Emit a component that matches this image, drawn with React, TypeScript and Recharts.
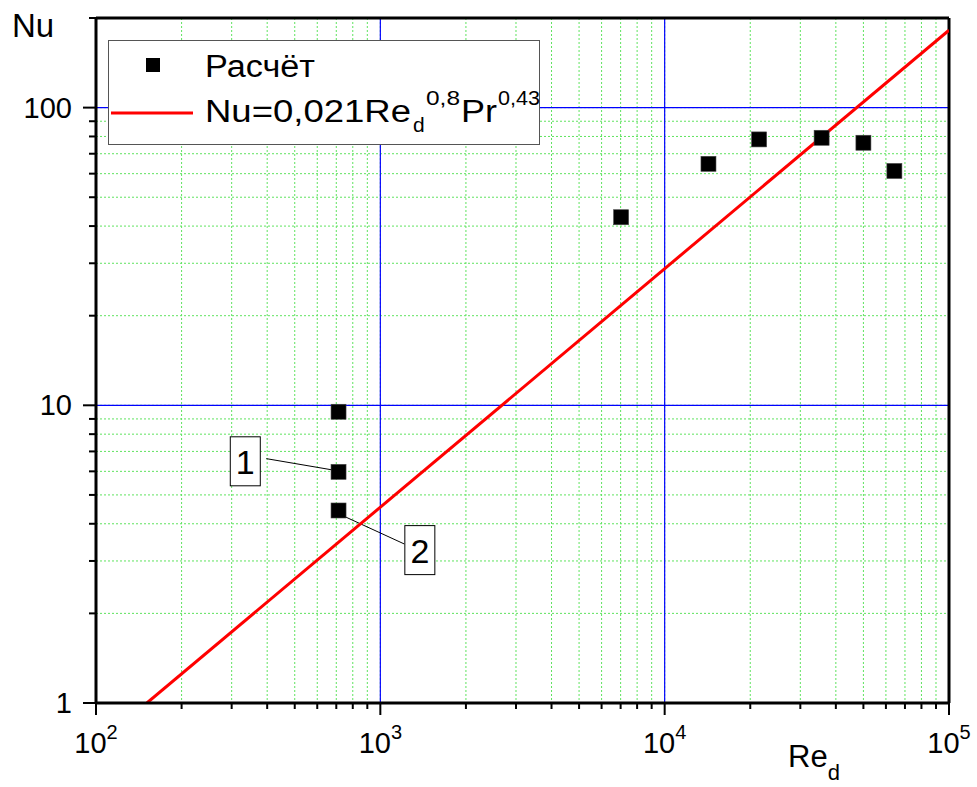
import { ComposedChart, Scatter, Line, XAxis, YAxis, CartesianGrid, ReferenceLine, ReferenceDot, Legend, Label } from "recharts"

const FONT = '"Liberation Sans", Arial, sans-serif'

// calculated points (Расчёт)
const calcRe = [710, 710, 710, 7000, 14200, 21400, 35500, 49800, 64000]
const calcNu = [9.55, 6.0, 4.45, 43, 65, 78.5, 79.5, 76.5, 61.5]

// correlation line Nu=0,021Re^0,8Pr^0,43, read at its two ends
const fitRe = [151, 100000]
const fitNu = [1, 182]

// axes
const xTicks = [100, 200, 300, 400, 500, 600, 700, 800, 900, 1000, 2000, 3000, 4000, 5000, 6000, 7000, 8000, 9000, 10000, 20000, 30000, 40000, 50000, 60000, 70000, 80000, 90000, 100000]
const xMajor = [100, 1000, 10000, 100000]
const xMajorExp = ["2", "3", "4", "5"]
const yTicks = [1, 2, 3, 4, 5, 6, 7, 8, 9, 10, 20, 30, 40, 50, 60, 70, 80, 90, 100, 200]
const yMajor = [1, 10, 100]
const yMajorLabels = ["1", "10", "100"]

// callouts "1" and "2"
const calloutText = ["1", "2"]
const calloutBoxRe = [335, 1377]
const calloutBoxNu = [6.46, 3.25]
const calloutFrom = [{ x: 397, y: 6.62 }, { x: 753, y: 4.22 }]
const calloutTo = [{ x: 711, y: 6.02 }, { x: 1215, y: 3.42 }]

const calcData = calcRe.map((re, i) => ({ re, nu: calcNu[i] }))
const fitData = fitRe.map((re, i) => ({ re, nu: fitNu[i] }))

const XTick = (props: any) => {
  const { x, y, payload } = props
  const idx = xMajor.indexOf(payload.value)
  const major = idx >= 0
  return (
    <g>
      <line x1={x} x2={x} y1={y} y2={y + (major ? 12 : 6)} stroke="#000" strokeWidth={2} />
      {major && (
        <text x={x} y={y + 50} textAnchor="middle" fontFamily={FONT} fontSize={29} fill="#000">
          <tspan>10</tspan>
          <tspan dy={-14} fontSize={20}>{xMajorExp[idx]}</tspan>
        </text>
      )}
    </g>
  )
}

const YTick = (props: any) => {
  const { x, y, payload } = props
  const idx = yMajor.indexOf(payload.value)
  const major = idx >= 0
  return (
    <g>
      <line x1={x - (major ? 13 : 7)} x2={x} y1={y} y2={y} stroke="#000" strokeWidth={2} />
      {major && (
        <text x={x - 24} y={y + 10} textAnchor="end" fontFamily={FONT} fontSize={29} fill="#000">
          {yMajorLabels[idx]}
        </text>
      )}
    </g>
  )
}

const Square = (props: any) => {
  const { cx, cy } = props
  if (cx == null || cy == null) return null
  return <rect x={cx - 7} y={cy - 7} width={15} height={15} fill="#000" stroke="#444" strokeWidth={0.6} />
}

const LegendBox = () => (
  <svg width={433} height={106} style={{ display: "block" }}>
    <rect x={0.5} y={0.5} width={431} height={104} fill="#fff" stroke="#555" strokeWidth={1} />
    <rect x={38} y={18} width={14} height={14} fill="#000" />
    <text x={97} y={37} fontFamily={FONT} fontSize={31} fill="#000" textLength={110} lengthAdjust="spacingAndGlyphs">Расчёт</text>
    <line x1={3} x2={85} y1={73} y2={73} stroke="#ff0000" strokeWidth={3} />
    <text x={97} y={82} fontFamily={FONT} fontSize={31} fill="#000" textLength={206} lengthAdjust="spacingAndGlyphs">Nu=0,021Re</text>
    <text x={305} y={92} fontFamily={FONT} fontSize={21} fill="#000">d</text>
    <text x={318} y={65} fontFamily={FONT} fontSize={21} fill="#000" textLength={34} lengthAdjust="spacingAndGlyphs">0,8</text>
    <text x={353} y={82} fontFamily={FONT} fontSize={31} fill="#000" textLength={36} lengthAdjust="spacingAndGlyphs">Pr</text>
    <text x={390} y={65} fontFamily={FONT} fontSize={21} fill="#000" textLength={42} lengthAdjust="spacingAndGlyphs">0,43</text>
  </svg>
)

const CalloutBox = (text: string) => (props: any) => {
  const { cx, cy } = props
  if (cx == null || cy == null) return null
  return (
    <g>
      <rect x={cx - 15} y={cy - 25} width={30} height={49} fill="#fff" stroke="#000" strokeWidth={1} />
      <text x={cx} y={cy + 12} textAnchor="middle" fontFamily={FONT} fontSize={34} fill="#000">{text}</text>
    </g>
  )
}

const YTitle = () => (
  <text x={12} y={37} fontFamily={FONT} fontSize={33} fill="#000">Nu</text>
)

const XTitle = () => (
  <text x={788} y={767} fontFamily={FONT} fill="#000">
    <tspan fontSize={31}>Re</tspan>
    <tspan fontSize={22} dy={13}>d</tspan>
  </text>
)

const App = () => {
  return (
    <div style={{ position: "absolute", left: 0, top: 0, width: 977, height: 787, background: "#fff" }}>
      <ComposedChart width={977} height={787} margin={{ top: 18, right: 28, left: 0, bottom: 0 }}>
        <CartesianGrid stroke="#5fe35f" strokeDasharray="2 2" strokeWidth={1} />
        <XAxis
          dataKey="re"
          type="number"
          scale="log"
          domain={[100, 100000]}
          ticks={xTicks}
          interval={0}
          allowDataOverflow
          height={84}
          tickSize={0}
          tickMargin={0}
          tickLine={false}
          tick={<XTick />}
          axisLine={{ stroke: "#000", strokeWidth: 3 }}
        >
          <Label content={<XTitle />} />
        </XAxis>
        <YAxis
          dataKey="nu"
          type="number"
          scale="log"
          domain={[1, 200]}
          ticks={yTicks}
          interval={0}
          allowDataOverflow
          width={96}
          tickSize={0}
          tickMargin={0}
          tickLine={false}
          tick={<YTick />}
          axisLine={{ stroke: "#000", strokeWidth: 3 }}
        >
          <Label content={<YTitle />} />
        </YAxis>
        {xMajor.slice(1, 3).map((v) => (
          <ReferenceLine key={"vx" + v} x={v} stroke="#0000ff" strokeWidth={1.2} />
        ))}
        {yMajor.slice(1).map((v) => (
          <ReferenceLine key={"hy" + v} y={v} stroke="#0000ff" strokeWidth={1.2} />
        ))}
        <ReferenceLine y={200} stroke="#000" strokeWidth={3} />
        <ReferenceLine x={100000} stroke="#000" strokeWidth={3} />
        {calloutText.map((t, i) => (
          <ReferenceLine key={"cl" + i} segment={[calloutFrom[i], calloutTo[i]]} stroke="#000" strokeWidth={1} />
        ))}
        <Line
          data={fitData}
          dataKey="nu"
          type="linear"
          stroke="#ff0000"
          strokeWidth={3}
          dot={false}
          isAnimationActive={false}
          legendType="none"
        />
        <Scatter data={calcData} dataKey="nu" shape={<Square />} isAnimationActive={false} />
        {calloutText.map((t, i) => (
          <ReferenceDot key={"cb" + i} x={calloutBoxRe[i]} y={calloutBoxNu[i]} r={1} shape={CalloutBox(t)} />
        ))}
        <Legend
          layout="vertical"
          align="center"
          verticalAlign="middle"
          content={<LegendBox />}
          wrapperStyle={{ position: "absolute", left: 108, top: 40, width: 433, height: 106 }}
        />
      </ComposedChart>
    </div>
  )
}

export default App
